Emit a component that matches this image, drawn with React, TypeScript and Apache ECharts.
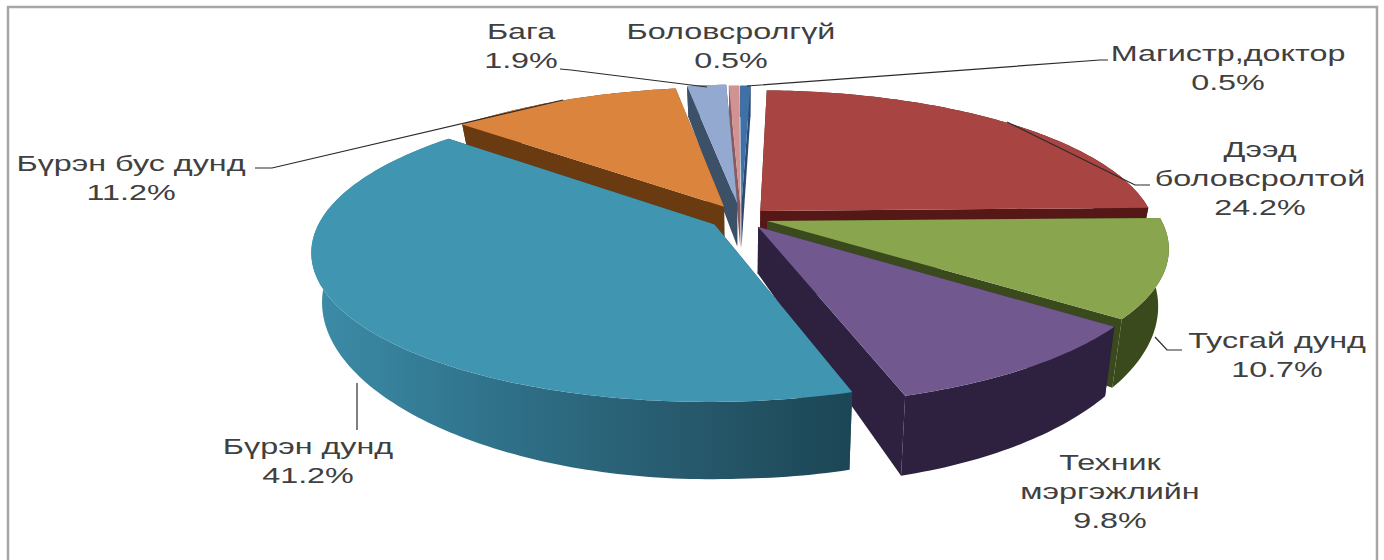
import React, { useEffect, useRef } from "react";
import * as echarts from "echarts";

const names = [
  "Дээд\nболовсролтой",
  "Тусгай дунд",
  "Техник\nмэргэжлийн",
  "Бүрэн дунд",
  "Бүрэн бус дунд",
  "Бага",
  "Боловсролгүй",
  "Магистр,доктор",
];
const values = [24.2, 10.7, 9.8, 41.2, 11.2, 1.9, 0.5, 0.5];
const topColors = ["#A84442", "#89A54E", "#71588F", "#4096B0", "#DB843D", "#93A9CF", "#D19392", "#3F70A8"];
const wallColors = ["#561816", "#3A4A1C", "#2E2140", "#1F4E60", "#6A3A10", "#3C5068", "#8A5A60", "#2A4A70"];
const explode = [0.07, 0.07, 0.075, 0.08, 0.09, 0.105, 0.095, 0.095];
const drawOrder = [7, 6, 5, 4, 0, 1, 2, 3];
const labelAt = [
  [1260, 178],
  [1277, 355],
  [1110, 491],
  [308, 461],
  [131, 178],
  [521, 46],
  [731, 46],
  [1228, 68],
];
const leaders = [
  [[1007, 122], [1135, 185], [1150, 185]],
  [[1155, 337], [1167, 350], [1182, 350]],
  [[357, 383], [357, 430]],
  [[255, 168], [272, 168], [563, 100]],
  [[560, 69], [571, 70], [707, 87]],
  [[747, 86], [1100, 60], [1108, 60]],
];

const START = 1.6;
const CX = 741, CY = 218, A = 393, B = 144, K = 0.175;
const H0 = 45, KH = 0.4, SHRINK = 0.975, RIGHT_GAIN = 0.16;

function proj(u: number, v: number, bottom: boolean): number[] {
  const s = 1 / (1 - K * v);
  let x = CX + A * u * s;
  let y = CY + B * v * s;
  if (bottom) {
    x = CX + (x - CX) * SHRINK;
    y += (H0 / (1 - KH * v)) * (1 + RIGHT_GAIN * Math.max(0, u));
  }
  return [x, y];
}

const total = values.reduce((a, b) => a + b, 0);

function renderSlice(params: any, api: any) {
  const i = params.dataIndex;
  let before = 0;
  for (let j = 0; j < i; j++) before += values[j];
  const val = api.value(0);
  const a0 = START + (before / total) * 360;
  const a1 = a0 + (val / total) * 360;
  const mid = ((a0 + a1) / 2) * Math.PI / 180;
  const e = explode[i];
  const ou = e * Math.sin(mid), ov = -e * Math.cos(mid);
  const rimAt = (deg: number, bottom: boolean) => {
    const t = deg * Math.PI / 180;
    return proj(ou + Math.sin(t), ov - Math.cos(t), bottom);
  };
  const n = Math.max(2, Math.ceil(a1 - a0));
  const top: number[][] = [];
  const low: number[][] = [];
  for (let k = 0; k <= n; k++) {
    const d = a0 + ((a1 - a0) * k) / n;
    top.push(rimAt(d, false));
    low.push(rimAt(d, true));
  }
  const apexT = proj(ou, ov, false);
  const apexB = proj(ou, ov, true);
  const rank = drawOrder.indexOf(i) * 4;
  const wall = wallColors[i];
  const outerFill: any = i === 3
    ? new echarts.graphic.LinearGradient(0, 0, 1, 0, [
        { offset: 0, color: "#3C8CA8" },
        { offset: 0.35, color: "#2F7189" },
        { offset: 0.7, color: "#27596C" },
        { offset: 1, color: "#1B4655" },
      ])
    : wall;
  return {
    type: "group",
    children: [
      { type: "polygon", z2: rank, shape: { points: [apexT, top[0], low[0], apexB] }, style: { fill: wall } },
      { type: "polygon", z2: rank + 1, shape: { points: [apexT, top[n], low[n], apexB] }, style: { fill: wall } },
      { type: "polygon", z2: rank + 2, shape: { points: [...top, ...low.slice().reverse()] }, style: { fill: outerFill } },
      { type: "polygon", z2: rank + 3, shape: { points: [apexT, ...top] }, style: { fill: topColors[i] } },
    ],
  };
}

export default function App() {
  const ref = useRef<HTMLDivElement>(null);
  useEffect(() => {
    const chart = echarts.init(ref.current!, null, { renderer: "svg" });
    chart.setOption({
      animation: false,
      backgroundColor: "#ffffff",
      series: [
        {
          type: "custom",
          coordinateSystem: "none",
          renderItem: renderSlice,
          data: values.map((v, i) => ({ name: names[i], value: [v] })),
          silent: true,
        },
      ],
      graphic: [
        {
          type: "polyline",
          z: 0,
          silent: true,
          shape: { points: [[8, 560], [8, 7], [1377, 7], [1377, 560]] },
          style: { fill: "none", stroke: "#A6A6A6", lineWidth: 2.5 },
        },
        ...leaders.map((pts) => ({
          type: "polyline",
          z: 5,
          silent: true,
          shape: { points: pts },
          style: { fill: "none", stroke: "#2A2A2A", lineWidth: 1.2 },
        })),
        ...names.map((nm, i) => ({
          type: "text",
          z: 6,
          silent: true,
          x: labelAt[i][0],
          y: labelAt[i][1],
          scaleX: 1.47,
          style: {
            text: `${nm}\n${values[i].toFixed(1)}%`,
            fontSize: 22,
            fontFamily: "Liberation Sans",
            fill: "#404040",
            align: "center",
            verticalAlign: "middle",
            lineHeight: 29,
          },
        })),
      ],
    });
    return () => chart.dispose();
  }, []);
  return <div ref={ref} style={{ position: "fixed", left: 0, top: 0, width: 1384, height: 560 }} />;
}
